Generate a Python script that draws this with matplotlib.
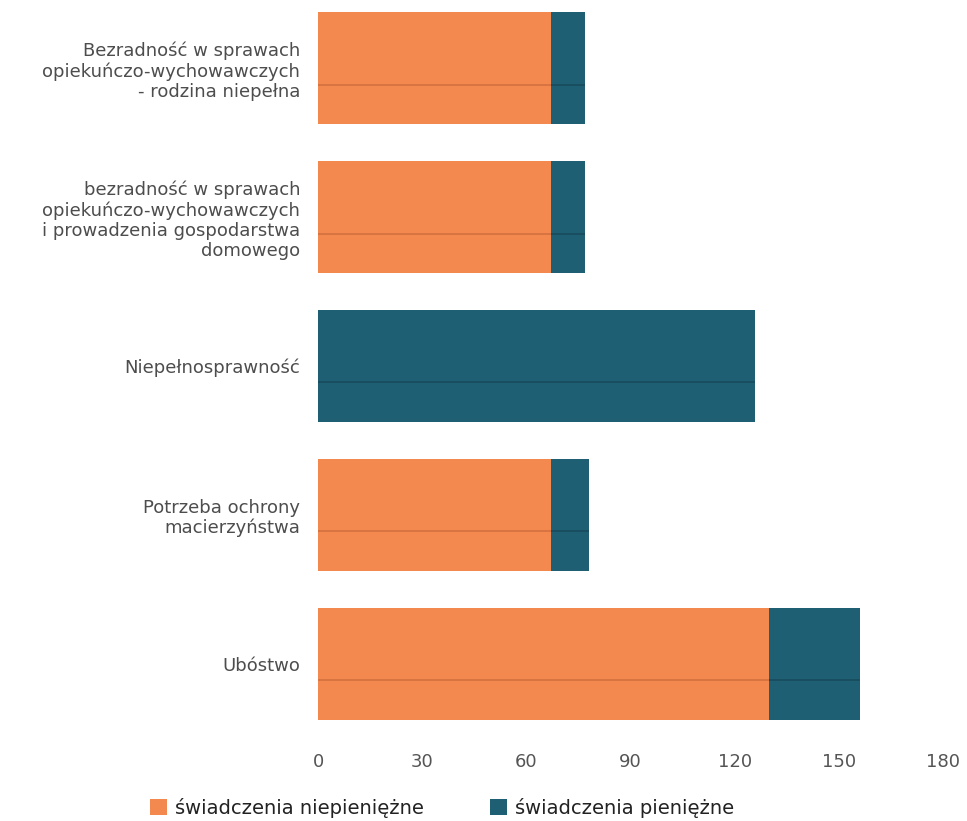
import numpy as np
import matplotlib.pyplot as plt

# Data
categories = [
    "Bezradność w sprawach\nopiekuńczo-wychowawczych\n- rodzina niepełna",
    "bezradność w sprawach\nopiekuńczo-wychowawczych\ni prowadzenia gospodarstwa\ndomowego",
    "Niepełnosprawność",
    "Potrzeba ochrony\nmacierzyństwa",
    "Ubóstwo",
]
niepieniezne = [67, 67, 0, 67, 130]
pieniezne = [10, 10, 126, 11, 26]
x_ticks = [0, 30, 60, 90, 120, 150, 180]
series_names = ["świadczenia niepieniężne", "świadczenia pieniężne"]

ORANGE = "#F4894F"
BLUE = "#1F5F73"
TEXT = "#4d4d4d"

fig = plt.figure(figsize=(9.67, 8.21), dpi=100)
ax = fig.add_axes([0.329, 0.1096, 0.646, 0.889])

y = np.arange(len(categories))
h = 0.75
b1 = ax.barh(y, niepieniezne, height=h, color=ORANGE, label=series_names[0])
b2 = ax.barh(y, pieniezne, height=h, left=niepieniezne, color=BLUE, label=series_names[1])

# thin darker line across each bar (cylinder shading seam)
for yi, a, b in zip(y, niepieniezne, pieniezne):
    line_y = yi + 0.11
    if a > 0:
        ax.hlines(line_y, 0, a, color="#C96A3A", lw=1.2, alpha=0.8)
    ax.hlines(line_y, a, a + b, color="#154656", lw=1.2, alpha=0.8)

ax.set_xlim(0, 180)
ax.set_ylim(4.45, -0.45)
ax.set_xticks(x_ticks)
ax.set_xticklabels([str(t) for t in x_ticks], fontsize=13, color="#555555")
ax.set_yticks(y)
ax.set_yticklabels(categories, fontsize=13, color=TEXT, linespacing=1.15)
ax.tick_params(axis="both", length=0)
ax.tick_params(axis="x", pad=16)
ax.tick_params(axis="y", pad=13)
for s in ax.spines.values():
    s.set_visible(False)

fig.legend(handles=[b1, b2], labels=series_names, loc="center",
           bbox_to_anchor=(0.457, 0.016), ncol=2, frameon=False,
           fontsize=14, handlelength=0.9, handleheight=0.9,
           handletextpad=0.4, columnspacing=3.4, labelcolor="#222222")

fig.savefig("out.png", dpi=100)
